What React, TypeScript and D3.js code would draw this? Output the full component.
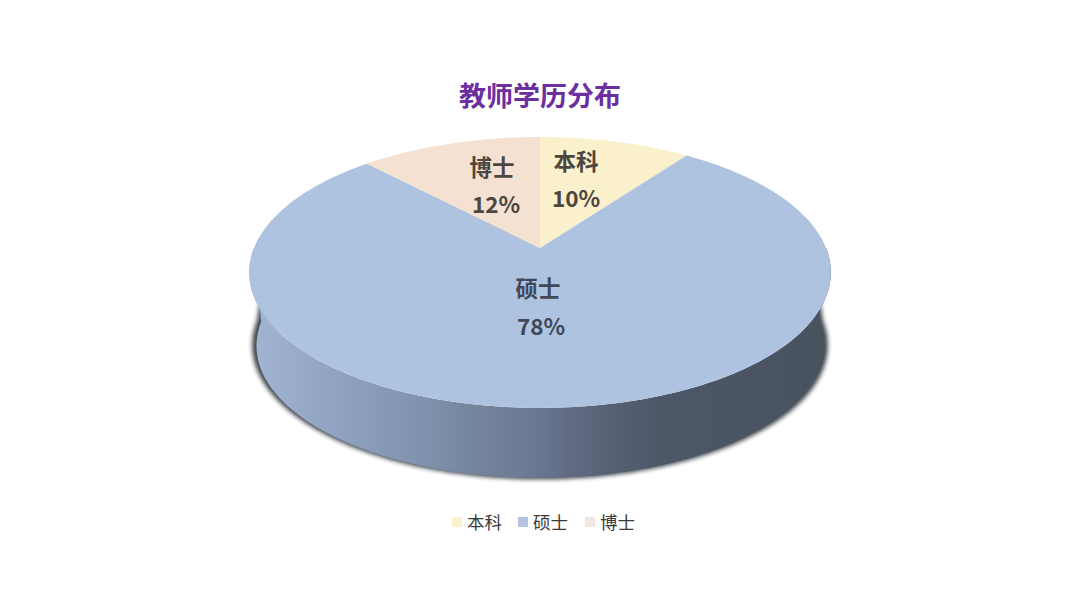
import * as d3 from 'd3';

const categories = ['本科', '硕士', '博士'];
const values = [10, 78, 12];
const sliceColors = ['#fbf0cc', '#aec3e0', '#f5e1d2'];
const legendColors = ['#fbf3d0', '#b4c4e0', '#f3e6dc'];
const title = '教师学历分布';

const sideStops: [number, string][] = [
  [0, '#a2b5d2'],
  [0.12, '#93a6c3'],
  [0.3, '#7f91ad'],
  [0.42, '#718199'],
  [0.5, '#697690'],
  [0.58, '#5c667c'],
  [0.7, '#4d5768'],
  [1, '#48525f'],
];

const font = '"Noto Sans CJK SC", "Noto Sans", sans-serif';
const cx = 540;
const cy = 248;
const kx = 286;
const my = 131;
const tilt = 0.1808;

// circle point on the table -> picture, with the near edge drawn larger
function project(a: number, dy = 0, grow = 1): [number, number] {
  const x = Math.sin(a);
  const y = -Math.cos(a);
  const w = 1 - tilt * y;
  return [cx + (kx * grow * x) / w, cy + dy + (my * grow * y) / w];
}

function arcPoints(a0: number, a1: number, dy = 0, grow = 1) {
  const n = Math.max(2, Math.ceil(Math.abs(a1 - a0) / 0.02));
  return d3.range(n + 1).map(i => project(a0 + ((a1 - a0) * i) / n, dy, grow));
}

export default function App() {
  const pie = d3.pie<number>().value(d => d).sort(null);
  const slices = pie(values);
  const line = d3.line();

  const topEdge = arcPoints(Math.PI * 0.5, Math.PI * 1.5);
  const wall = line([...topEdge, ...arcPoints(Math.PI * 1.5, Math.PI * 0.5, 74, 0.975)])! + 'Z';
  // shadow starts further in so its blur stays hidden behind the top face
  const shadow = line([
    ...arcPoints(Math.PI * 0.5, Math.PI * 1.5, 20, 0.96),
    ...arcPoints(Math.PI * 1.5, Math.PI * 0.5, 73, 0.99),
  ])! + 'Z';

  const legendX = [452, 518, 585];
  const labels = [
    [576, 170, 576, 207],
    [538, 297, 541, 335],
    [492, 176, 496, 213],
  ];

  return (
    <svg
      width={1080}
      height={608}
      viewBox="0 0 1080 608"
      style={{ position: 'absolute', left: 0, top: 0, background: '#fff' }}
      fontFamily={font}
    >
      <defs>
        <linearGradient id="wall" x1="249" x2="832" y1="0" y2="0" gradientUnits="userSpaceOnUse">
          {sideStops.map(([o, c]) => (
            <stop key={o} offset={o} stopColor={c} />
          ))}
        </linearGradient>
        <filter id="soft" x="-5%" y="-5%" width="110%" height="110%">
          <feGaussianBlur stdDeviation="2.2" />
        </filter>
        <filter id="legendSoft" x="-30%" y="-30%" width="160%" height="160%">
          <feGaussianBlur stdDeviation="0.6" />
        </filter>
      </defs>

      <text x={540} y={106} textAnchor="middle" fontSize={27} fontWeight={700} fill="#6b2f9f">
        {title}
      </text>

      <path d={shadow} fill="#2f343c" filter="url(#soft)" opacity={0.9} />
      <path d={wall} fill="url(#wall)" />

      {slices.map((s, i) => (
        <path
          key={categories[i]}
          d={line([[cx, cy], ...arcPoints(s.startAngle, s.endAngle)])! + 'Z'}
          fill={sliceColors[i]}
        />
      ))}

      {labels.map((p, i) => (
        <g key={categories[i]} textAnchor="middle" fontSize={22.5} fontWeight={700} fill={i === 1 ? '#3f4858' : '#4b4640'}>
          <text x={p[0]} y={p[1]}>{categories[i]}</text>
          <text x={p[2]} y={p[3]}>{d3.format('d')(values[i])}%</text>
        </g>
      ))}

      {categories.map((c, i) => (
        <g key={c}>
          <rect x={legendX[i]} y={517} width={10} height={10} fill={legendColors[i]} filter="url(#legendSoft)" />
          <text x={legendX[i] + 15} y={529} fontSize={17.5} fill="#3a3a3a">{c}</text>
        </g>
      ))}
    </svg>
  );
}
